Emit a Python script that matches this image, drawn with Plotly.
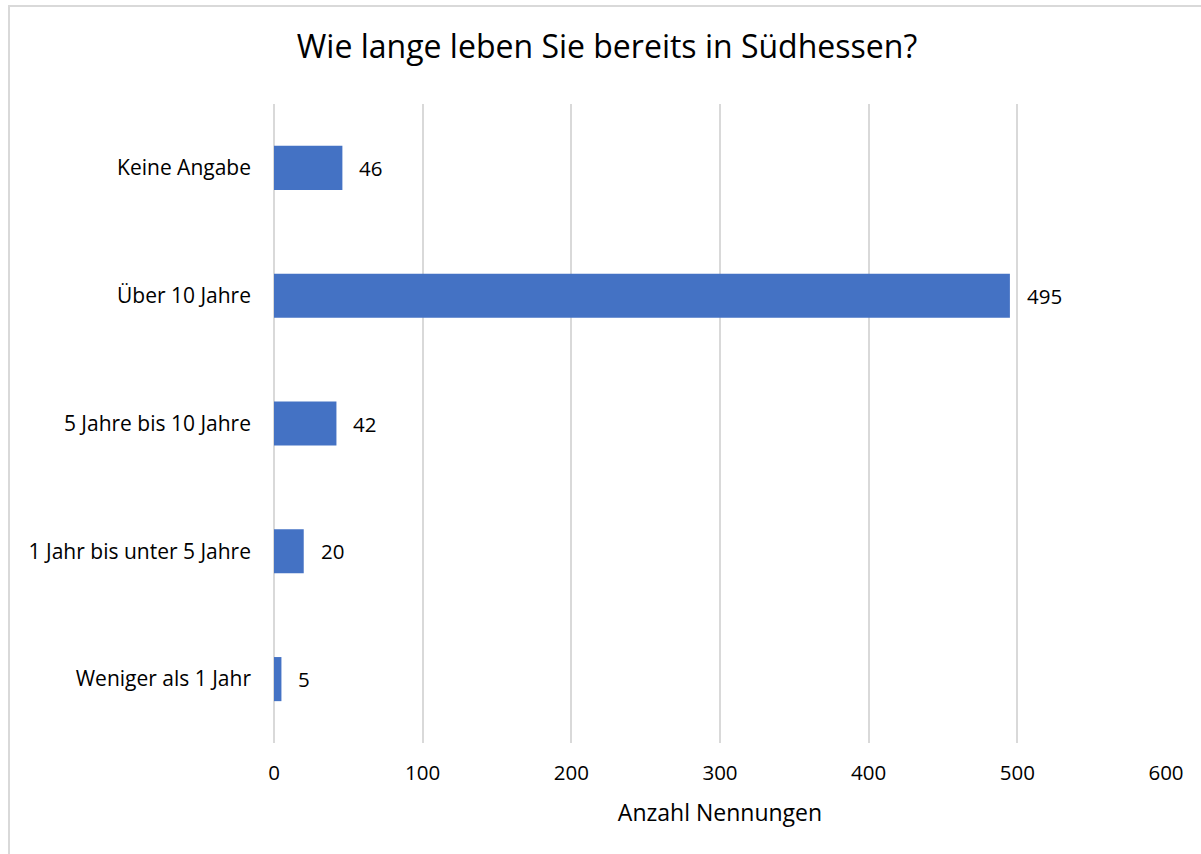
import plotly.graph_objects as go

categories = ["Weniger als 1 Jahr", "1 Jahr bis unter 5 Jahre", "5 Jahre bis 10 Jahre",
              "Über 10 Jahre", "Keine Angabe"]
values = [5, 20, 42, 495, 46]
x_ticks = [0, 100, 200, 300, 400, 500, 600]

FONT = "Open Sans"
BAR = "#4472C4"
GRID = "#d9d9d9"

fig = go.Figure()
fig.add_trace(go.Bar(
    y=categories, x=values, orientation="h",
    marker=dict(color=BAR, line=dict(width=0)),
    width=0.345,
    hoverinfo="x+y",
))

for c, v in zip(categories, values):
    fig.add_annotation(x=v, y=c, text=str(v), showarrow=False,
                       xanchor="left", xshift=15,
                       font=dict(family=FONT, size=20.5, color="#000000"))

fig.update_layout(
    width=1201, height=854,
    margin=dict(l=274, r=35, t=104, b=111),
    paper_bgcolor="white", plot_bgcolor="white",
    showlegend=False,
    title=dict(text="Wie lange leben Sie bereits in Südhessen?",
               x=607 / 1201, xanchor="center", xref="container", y=1 - 47/854, yanchor="middle",
               font=dict(family=FONT, size=32, color="#000000")),
    xaxis=dict(range=[0, 600], tickvals=x_ticks, showgrid=True, gridcolor=GRID, gridwidth=1.5,
               zeroline=True, zerolinecolor=GRID, zerolinewidth=1.5, showline=False,
               ticks="", ticklabelstandoff=15,
               tickfont=dict(family=FONT, size=20.5, color="#000000"),
               title=dict(text="Anzahl Nennungen", standoff=20,
                          font=dict(family=FONT, size=23, color="#000000"))),
    yaxis=dict(showgrid=False, showline=False, ticks="", ticklabelstandoff=22,
               tickfont=dict(family=FONT, size=21, color="#000000")),
    shapes=[dict(type="rect", xref="paper", yref="paper",
                 x0=(9 - 274) / 892, x1=(1210 - 274) / 892,
                 y0=(743 - 860) / 639, y1=(743 - 6) / 639,
                 line=dict(color=GRID, width=2), fillcolor="rgba(0,0,0,0)", layer="below")],
)

fig.write_html("out.html", config={"displayModeBar": False},
               post_script="document.body.style.margin='0';")
